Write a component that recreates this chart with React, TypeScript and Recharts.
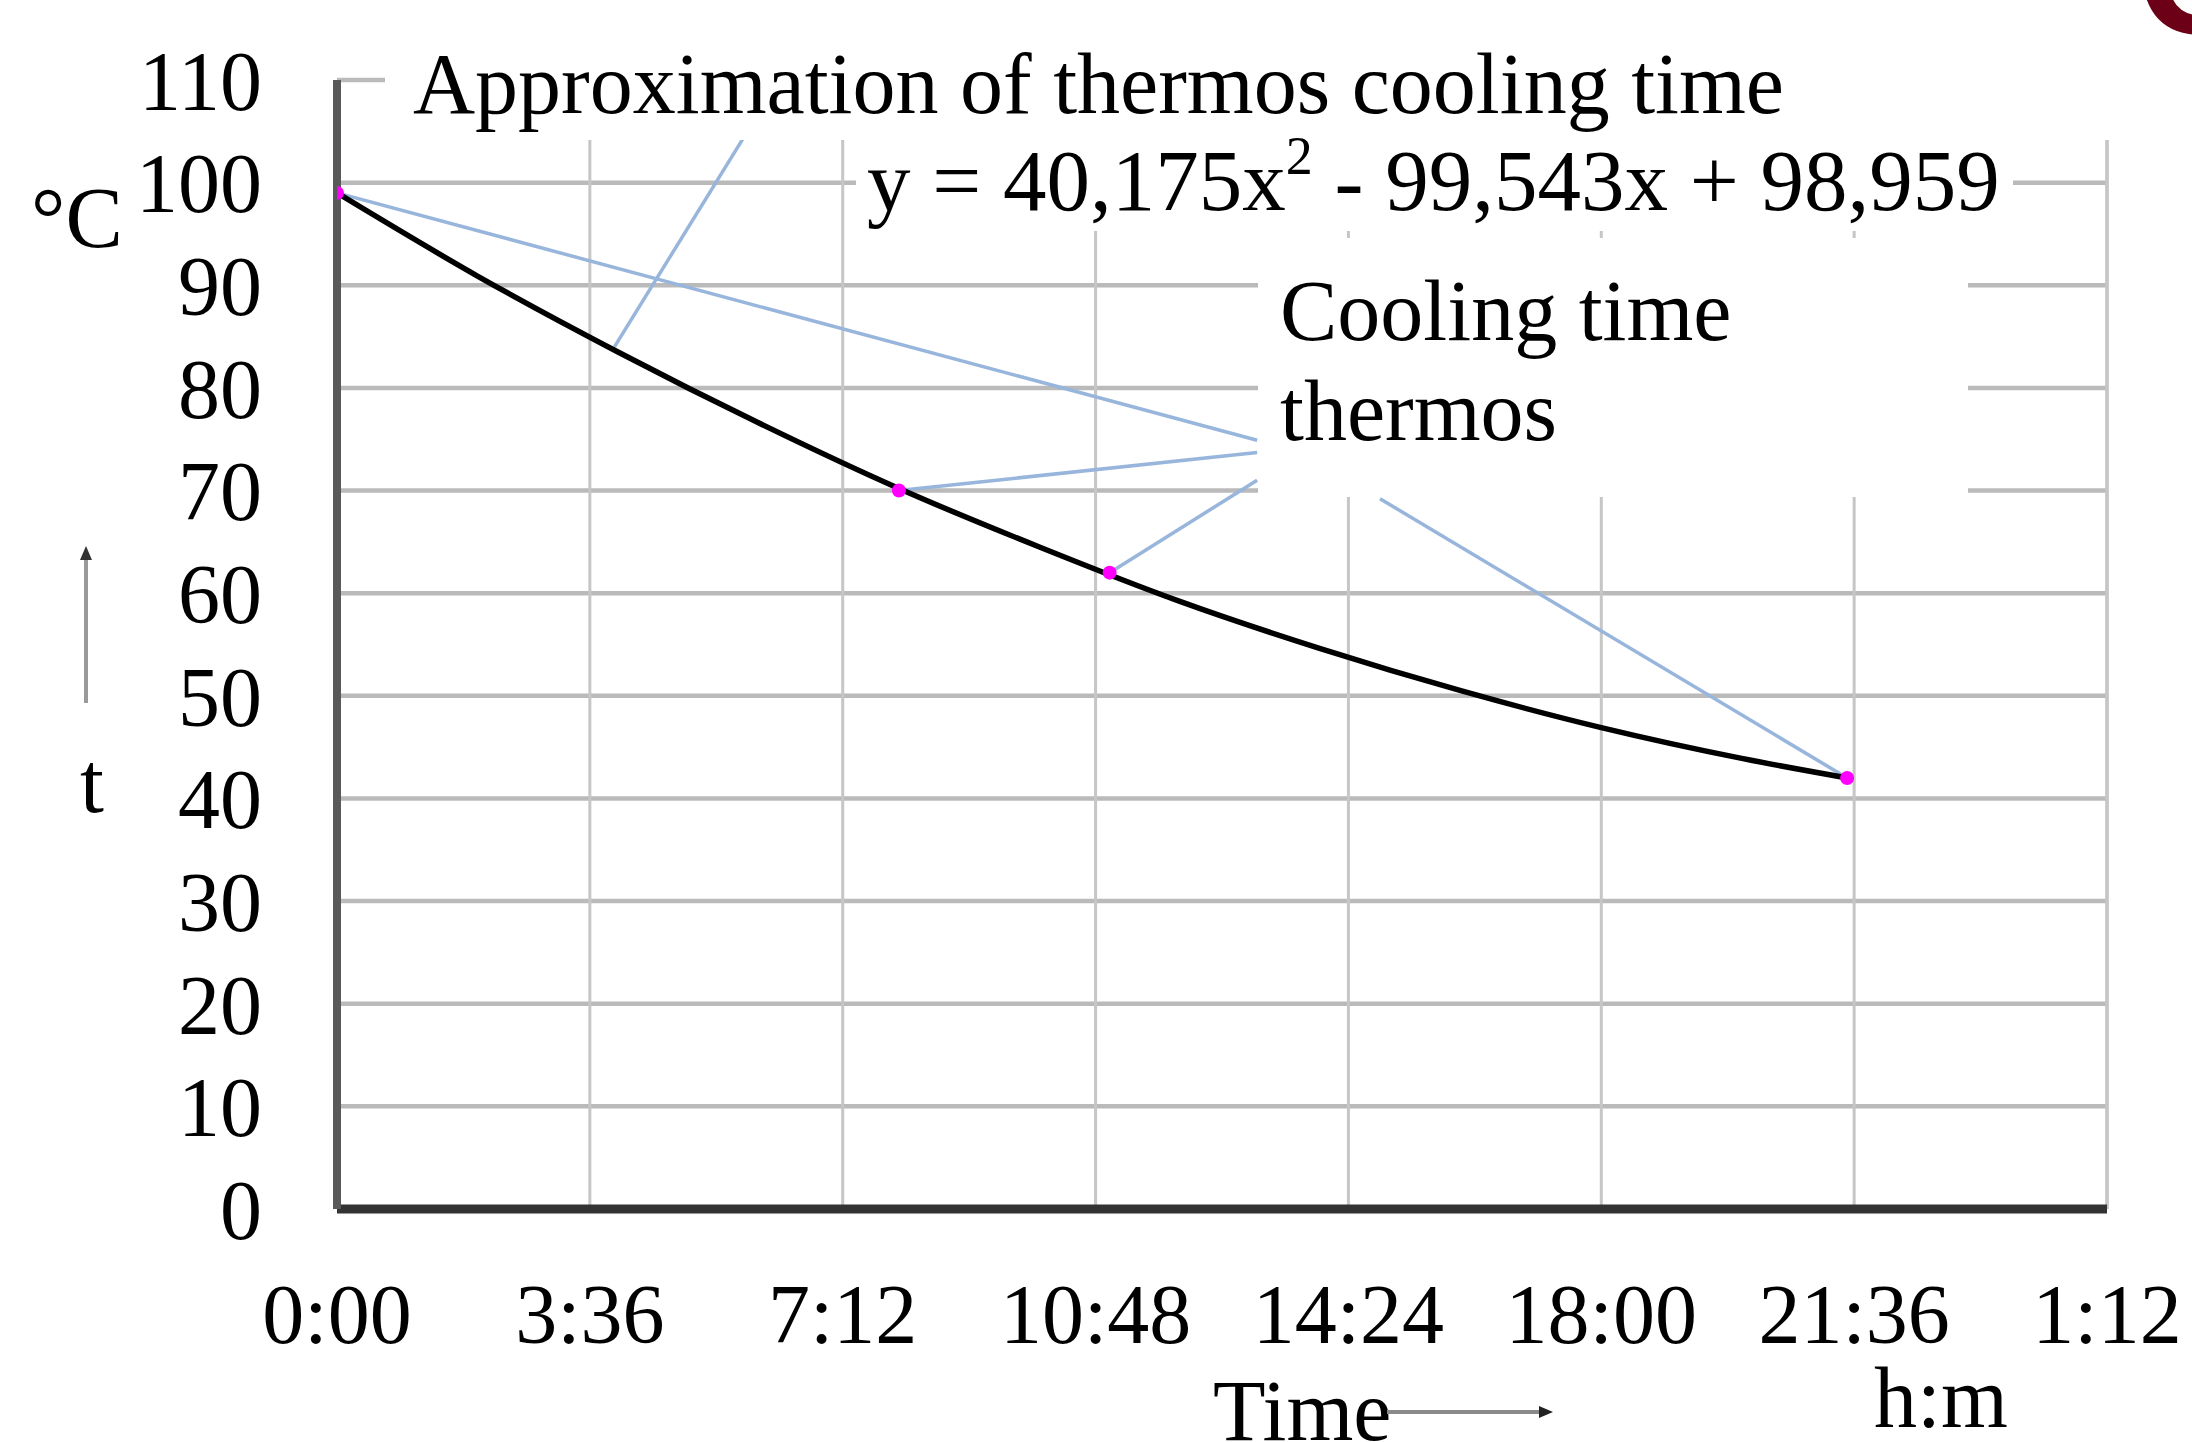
import React from "react";
import {
  ComposedChart,
  Line,
  Scatter,
  XAxis,
  YAxis,
  CartesianGrid,
  ReferenceLine,
} from "recharts";

// ---- data ----
const xTickValues = [0, 3.6, 7.2, 10.8, 14.4, 18, 21.6, 25.2]; // hours
const xTickLabels = ["0:00", "3:36", "7:12", "10:48", "14:24", "18:00", "21:36", "1:12"];
const yTickValues = [0, 10, 20, 30, 40, 50, 60, 70, 80, 90, 100, 110];

const measuredHours = [0, 8, 11, 21.5];
const measuredTemps = [99, 70, 62, 42];

const trendHours = [0, 2, 4, 6, 8, 10, 12, 14, 16, 18, 20, 21.5];
const trendTemps = [99.0, 90.9, 83.5, 76.6, 70.2, 64.5, 59.2, 54.6, 50.5, 46.9, 43.9, 42.0];

// leader-line label anchors (data space)
const approxLeader = [{ x: 5.8, y: 104.5 }, { x: 3.95, y: 84 }];
const coolingAnchors = [
  { x: 13.1, y: 74.9 },
  { x: 13.1, y: 73.7 },
  { x: 13.1, y: 71.0 },
  { x: 14.85, y: 69.2 },
];

const titleText = "Approximation of thermos cooling time";
const seriesLabel = ["Cooling time", "thermos"];

const measured = measuredHours.map((h, i) => ({ x: h, y: measuredTemps[i] }));
const trend = trendHours.map((h, i) => ({ x: h, t: trendTemps[i] }));

const FONT = "'Liberation Serif', 'Times New Roman', serif";
const LEADER = "#98b5dc";

const Dot = (props: any) => {
  const { cx, cy } = props;
  if (cx == null || cy == null) return null;
  return <circle cx={cx} cy={cy} r={7} fill="#ff00ff" />;
};

export default function App() {
  return (
    <div style={{ position: "absolute", left: 0, top: 0, width: 2192, height: 1442, background: "#fff" }}>
      <ComposedChart
        width={2192}
        height={1442}
        margin={{ top: 80, right: 85, bottom: 0, left: 0 }}
      >
        <CartesianGrid vertical={false} stroke="#bababa" strokeWidth={4.5} />
        <CartesianGrid horizontal={false} stroke="#c6c6c6" strokeWidth={3} />
        <XAxis
          type="number"
          dataKey="x"
          domain={[0, 25.2]}
          ticks={xTickValues}
          interval={0}
          allowDataOverflow
          height={233}
          tickSize={0}
          tickMargin={74}
          tickFormatter={(v: number) => {
            const i = xTickValues.findIndex((t) => Math.abs(t - v) < 1e-6);
            return i >= 0 ? xTickLabels[i] : "";
          }}
          tick={{ fill: "#000", fontSize: 84, fontFamily: FONT }}
          axisLine={{ stroke: "#333", strokeWidth: 9 }}
        />
        <YAxis
          type="number"
          domain={[0, 110]}
          ticks={yTickValues}
          interval={0}
          width={337}
          tickSize={0}
          tickMargin={75}
          tick={{ fill: "#000", fontSize: 84, fontFamily: FONT }}
          axisLine={{ stroke: "#595959", strokeWidth: 8 }}
        />
        <ReferenceLine x={25.2} stroke="#c6c6c6" strokeWidth={3.5} />
        <ReferenceLine
          segment={approxLeader}
          stroke={LEADER}
          strokeWidth={3.5}
          ifOverflow="visible"
        />
        {measured.map((p, i) => (
          <ReferenceLine
            key={i}
            segment={[coolingAnchors[i], { x: p.x, y: p.y }]}
            stroke={LEADER}
            strokeWidth={3.5}
            ifOverflow="visible"
          />
        ))}
        <Scatter data={measured} dataKey="y" shape={<Dot />} isAnimationActive={false} />
        <Line
          data={trend}
          dataKey="t"
          type="monotone"
          stroke="#000"
          strokeWidth={5.5}
          dot={false}
          activeDot={false}
          isAnimationActive={false}
        />
      </ComposedChart>

      <svg
        width={2192}
        height={1442}
        style={{ position: "absolute", left: 0, top: 0, pointerEvents: "none" }}
        fontFamily={FONT}
      >
        {/* title / equation / label boxes */}
        <rect x={385} y={30} width={1807} height={110} fill="#fff" />
        <rect x={856} y={139} width={1157} height={92} fill="#fff" />
        <rect x={1258} y={238} width={710} height={259} fill="#fff" />

        <text x={413} y={113} fontSize={86} fill="#000">{titleText}</text>
        <text x={867} y={210} fontSize={87} fill="#000" style={{ whiteSpace: "pre" }}>
          y = 40,175x
          <tspan dy={-36} fontSize={54}>2</tspan>
          <tspan dy={36}> - 99,543x + 98,959</tspan>
        </text>
        <text x={1280} y={340} fontSize={86} fill="#000">{seriesLabel[0]}</text>
        <text x={1280} y={440} fontSize={86} fill="#000">{seriesLabel[1]}</text>

        {/* y axis captions */}
        <text x={31} y={247} fontSize={86} fill="#000">°C</text>
        <line x1={86} y1={703} x2={86} y2={556} stroke="#9a9a9a" strokeWidth={4} />
        <polygon points="86,546 80,560 92,560" fill="#333" />
        <text x={80} y={812} fontSize={86} fill="#000">t</text>

        {/* x axis captions */}
        <text x={1213} y={1440} fontSize={86} fill="#000">Time</text>
        <line x1={1387} y1={1412} x2={1540} y2={1412} stroke="#8a8a8a" strokeWidth={4} />
        <polygon points="1553,1412 1539,1406 1539,1418" fill="#222" />
        <text x={1874} y={1427} fontSize={86} fill="#000">h:m</text>

        {/* cropped glyph at top right */}
        <text x={2136} y={33} fontSize={170} fontWeight="bold" fill="#6b0016" fontFamily="'Liberation Sans', Arial, sans-serif">C</text>
      </svg>
    </div>
  );
}
